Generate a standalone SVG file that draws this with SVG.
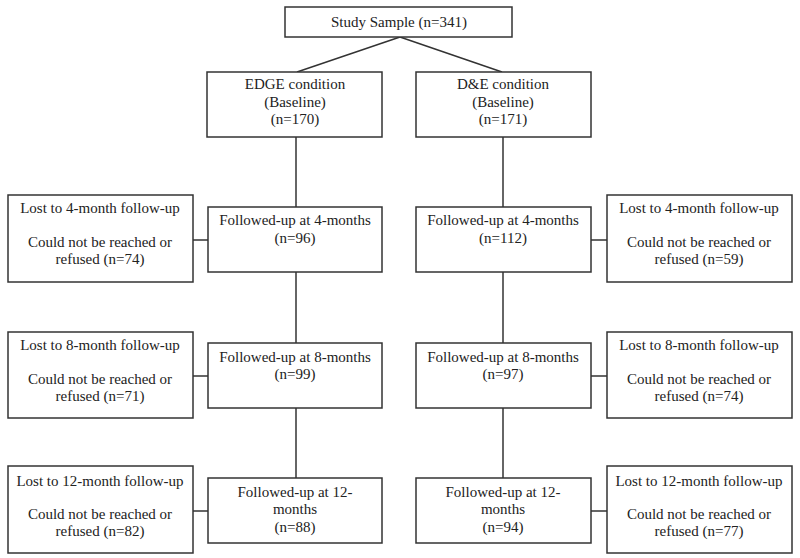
<svg xmlns="http://www.w3.org/2000/svg" width="800" height="558" viewBox="0 0 800 558">
<style>
rect{fill:#fff;stroke:#333;stroke-width:1.5}
text{font-family:"Liberation Serif","Times New Roman",serif;font-size:15px;fill:#222;text-anchor:middle}
.c line{stroke:#333;stroke-width:1.5}
</style>
<rect x="0" y="0" width="800" height="558" style="stroke:none"/>
<g class="c" id="connectors">
<line x1="400" y1="37" x2="297" y2="72"/>
<line x1="400" y1="37" x2="502" y2="72"/>
<line x1="296" y1="137" x2="296" y2="207"/>
<line x1="296" y1="272" x2="296" y2="343"/>
<line x1="296" y1="408" x2="296" y2="478"/>
<line x1="503" y1="137" x2="503" y2="207"/>
<line x1="503" y1="272" x2="503" y2="343"/>
<line x1="503" y1="408" x2="503" y2="478"/>
<line x1="193" y1="240" x2="208" y2="240"/>
<line x1="193" y1="376" x2="208" y2="376"/>
<line x1="193" y1="511" x2="208" y2="511"/>
<line x1="591" y1="240" x2="607" y2="240"/>
<line x1="591" y1="376" x2="607" y2="376"/>
<line x1="591" y1="511" x2="607" y2="511"/>
</g>
<g id="study"><rect x="285" y="7" width="227" height="30"/><text x="399" y="27">Study Sample (n=341)</text></g>
<g id="edge"><rect x="207" y="72" width="175" height="65"/><text x="295" y="89">EDGE condition</text><text x="295" y="107">(Baseline)</text><text x="295" y="124">(n=170)</text></g>
<g id="de"><rect x="416" y="72" width="175" height="65"/><text x="503" y="89">D&amp;E condition</text><text x="503" y="107">(Baseline)</text><text x="503" y="124">(n=171)</text></g>

<g id="lostL4"><rect x="8" y="195" width="185" height="87"/><text x="100" y="213">Lost to 4-month follow-up</text><text x="100" y="247">Could not be reached or</text><text x="100" y="264">refused (n=74)</text></g>
<g id="fuL4"><rect x="208" y="207" width="174" height="65"/><text x="295" y="225">Followed-up at 4-months</text><text x="295" y="243">(n=96)</text></g>
<g id="fuR4"><rect x="416" y="207" width="175" height="65"/><text x="503" y="225">Followed-up at 4-months</text><text x="503" y="243">(n=112)</text></g>
<g id="lostR4"><rect x="607" y="195" width="185" height="87"/><text x="699" y="213">Lost to 4-month follow-up</text><text x="699" y="247">Could not be reached or</text><text x="699" y="264">refused (n=59)</text></g>

<g id="lostL8"><rect x="8" y="332" width="185" height="86"/><text x="100" y="350">Lost to 8-month follow-up</text><text x="100" y="384">Could not be reached or</text><text x="100" y="401">refused (n=71)</text></g>
<g id="fuL8"><rect x="208" y="343" width="174" height="65"/><text x="295" y="362">Followed-up at 8-months</text><text x="295" y="379">(n=99)</text></g>
<g id="fuR8"><rect x="416" y="343" width="175" height="65"/><text x="503" y="362">Followed-up at 8-months</text><text x="503" y="379">(n=97)</text></g>
<g id="lostR8"><rect x="607" y="332" width="185" height="86"/><text x="699" y="350">Lost to 8-month follow-up</text><text x="699" y="384">Could not be reached or</text><text x="699" y="401">refused (n=74)</text></g>

<g id="lostL12"><rect x="8" y="466" width="185" height="87"/><text x="100" y="486">Lost to 12-month follow-up</text><text x="100" y="519">Could not be reached or</text><text x="100" y="536">refused (n=82)</text></g>
<g id="fuL12"><rect x="208" y="478" width="174" height="65"/><text x="295" y="497">Followed-up at 12-</text><text x="295" y="514">months</text><text x="295" y="532">(n=88)</text></g>
<g id="fuR12"><rect x="416" y="478" width="175" height="65"/><text x="503" y="497">Followed-up at 12-</text><text x="503" y="514">months</text><text x="503" y="532">(n=94)</text></g>
<g id="lostR12"><rect x="607" y="466" width="185" height="87"/><text x="699" y="486">Lost to 12-month follow-up</text><text x="699" y="519">Could not be reached or</text><text x="699" y="536">refused (n=77)</text></g>
</svg>
